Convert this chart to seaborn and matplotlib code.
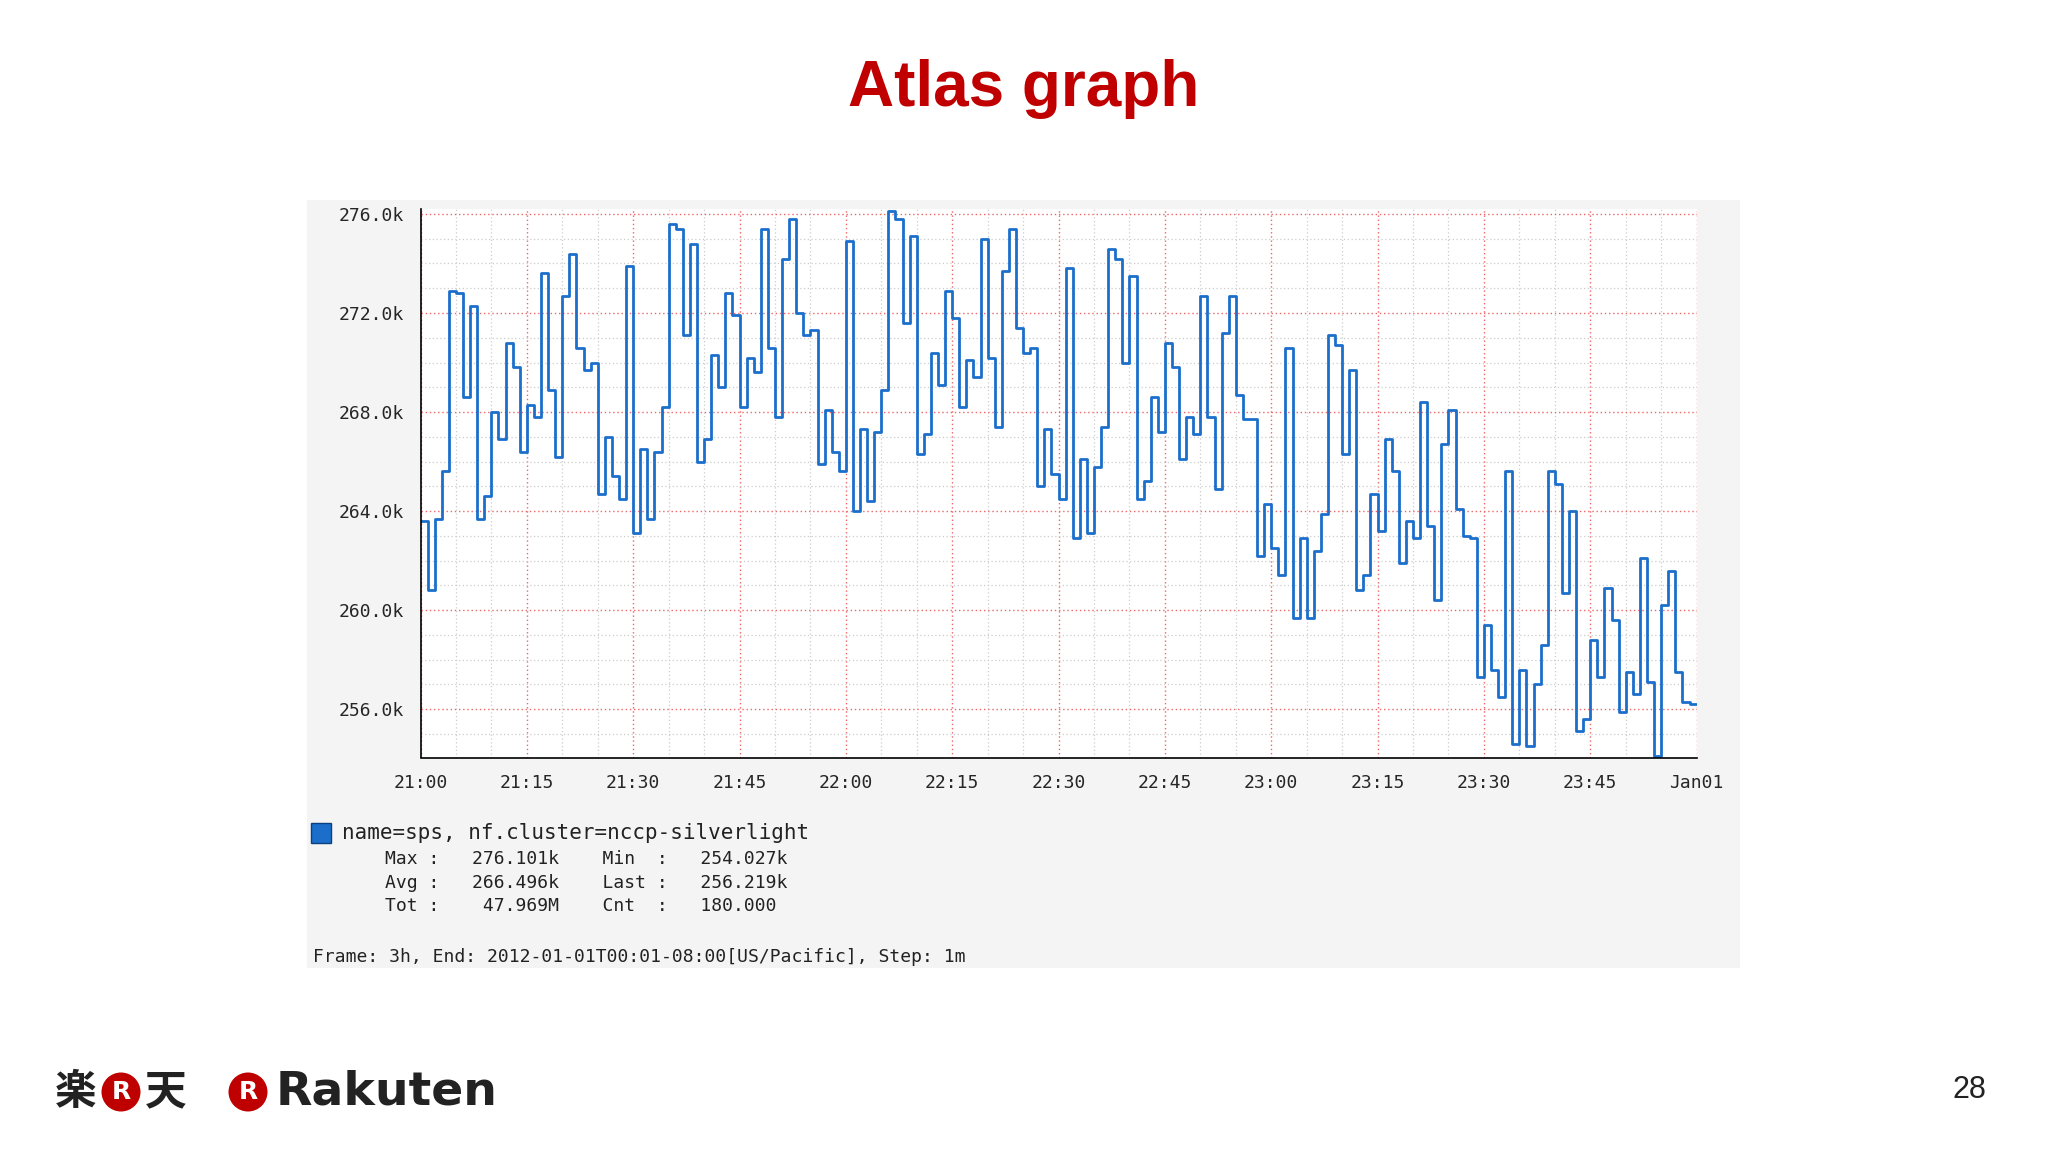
import matplotlib
matplotlib.use("Agg")
import matplotlib.pyplot as plt
import seaborn as sns
import pandas as pd
import numpy as np
from matplotlib.patches import Rectangle

values_k = [263.6,260.8,263.7,265.6,272.9,272.8,268.6,272.3,263.7,264.6,268.0,266.9,270.8,269.8,266.4,268.3,267.8,273.6,268.9,266.2,
            272.7,274.4,270.6,269.7,270.0,264.7,267.0,265.4,264.5,273.9,263.1,266.5,263.7,266.4,268.2,275.6,275.4,271.1,274.8,266.0,
            266.9,270.3,269.0,272.8,271.9,268.2,270.2,269.6,275.4,270.6,267.8,274.2,275.8,272.0,271.1,271.3,265.9,268.1,266.4,265.6,
            274.9,264.0,267.3,264.4,267.2,268.9,276.1,275.8,271.6,275.1,266.3,267.1,270.4,269.1,272.9,271.8,268.2,270.1,269.4,275.0,
            270.2,267.4,273.7,275.4,271.4,270.4,270.6,265.0,267.3,265.5,264.5,273.8,262.9,266.1,263.1,265.8,267.4,274.6,274.2,270.0,
            273.5,264.5,265.2,268.6,267.2,270.8,269.8,266.1,267.8,267.1,272.7,267.8,264.9,271.2,272.7,268.7,267.7,267.7,262.2,264.3,
            262.5,261.4,270.6,259.7,262.9,259.7,262.4,263.9,271.1,270.7,266.3,269.7,260.8,261.4,264.7,263.2,266.9,265.6,261.9,263.6,
            262.9,268.4,263.4,260.4,266.7,268.1,264.1,263.0,262.9,257.3,259.4,257.6,256.5,265.6,254.6,257.6,254.5,257.0,258.6,265.6,
            265.1,260.7,264.0,255.1,255.6,258.8,257.3,260.9,259.6,255.9,257.5,256.6,262.1,257.1,254.1,260.2,261.6,257.5,256.3,256.2]
tick_minutes = [0, 15, 30, 45, 60, 75, 90, 105, 120, 135, 150, 165, 180]
tick_labels = ["21:00","21:15","21:30","21:45","22:00","22:15","22:30","22:45","23:00","23:15","23:30","23:45","Jan01"]
y_ticks = [256, 260, 264, 268, 272, 276]
y_tick_labels = ["256.0k","260.0k","264.0k","268.0k","272.0k","276.0k"]
series_name = "name=sps, nf.cluster=nccp-silverlight"
stats_lines = ["Max :   276.101k    Min  :   254.027k",
               "Avg :   266.496k    Last :   256.219k",
               "Tot :    47.969M    Cnt  :   180.000"]
footer = "Frame: 3h, End: 2012-01-01T00:01-08:00[US/Pacific], Step: 1m"

sns.set_theme(style="white")
plt.rcParams['font.family'] = ['DejaVu Sans', 'Noto Sans CJK JP']

W, H = 2048, 1152
fig = plt.figure(figsize=(20.48, 11.52), dpi=100)
fig.patch.set_facecolor("white")
panel = Rectangle((307/W, 1-968/H), (1740-307)/W, (968-200)/H, transform=fig.transFigure,
                  facecolor="#f4f4f4", edgecolor="none", zorder=-5)
fig.patches.append(panel)

ax = fig.add_axes([420.5/W, 1-757.5/H, (1696.6-420.5)/W, (757.5-209)/H])
ax.set_zorder(2)
ax.set_facecolor("white")
n = len(values_k)
df = pd.DataFrame({"minute": list(range(n)) + [n], "v": values_k + [values_k[-1]]})
sns.lineplot(data=df, x="minute", y="v", ax=ax, drawstyle="steps-post", color="#1b6fcb", linewidth=2)
ax.set_xlim(0, 180)
ax.set_ylim(254.05, 276.2)
ax.set_xticks(tick_minutes)
ax.set_xticklabels(tick_labels, family="DejaVu Sans Mono", fontsize=13)
ax.set_yticks(y_ticks)
ax.set_yticklabels(y_tick_labels, family="DejaVu Sans Mono", fontsize=13)
ax.set_xticks(np.arange(0, 181, 5), minor=True)
ax.set_yticks(np.arange(255, 277, 1), minor=True)
ax.grid(which="minor", color="#cccccc", linestyle=(0, (1, 2)), linewidth=0.9)
ax.grid(which="major", color="#ee6666", linestyle=(0, (1, 2)), linewidth=1.0)
ax.set_axisbelow(True)
ax.set_xlabel(""); ax.set_ylabel("")
for s in ["top", "right"]:
    ax.spines[s].set_visible(False)
for s in ["left", "bottom"]:
    ax.spines[s].set_color("black"); ax.spines[s].set_linewidth(1.2)
ax.tick_params(axis="both", which="major", direction="out", length=6, width=1.2, color="black", pad=6)
ax.tick_params(axis="both", which="minor", length=0)

fig.text(0.5, 1-89/H, "Atlas graph", ha="center", va="center", fontsize=46, fontweight="bold",
         color="#c00000", family="Liberation Sans")
fig.patches.append(Rectangle((311/W, 1-843/H), 20/W, 20/H, transform=fig.transFigure,
                             facecolor="#1b6fcb", edgecolor="#0a3f80", zorder=3))
fig.text(342/W, 1-833/H, series_name, ha="left", va="center", fontsize=15, family="DejaVu Sans Mono", color="#222222")
for i, line in enumerate(stats_lines):
    fig.text(385/W, 1-(859+23.5*i)/H, line, ha="left", va="center", fontsize=13,
             family="DejaVu Sans Mono", color="#222222")
fig.text(313/W, 1-957/H, footer, ha="left", va="center", fontsize=13, family="DejaVu Sans Mono", color="#222222")

# footer logos
fig.text(76/W, 1-1092/H, "楽", ha="center", va="center", fontsize=30, family="Noto Sans CJK JP", fontweight="bold", color="#222222")
fig.text(166/W, 1-1092/H, "天", ha="center", va="center", fontsize=30, family="Noto Sans CJK JP", fontweight="bold", color="#222222")
for cx in (121, 248):
    fig.text(cx/W, 1-1092/H, "R", ha="center", va="center", fontsize=18, fontweight="bold", color="white",
             bbox=dict(boxstyle="circle,pad=0.3", facecolor="#bf0000", edgecolor="none"))
fig.text(276/W, 1-1092/H, "Rakuten", ha="left", va="center", fontsize=34, fontweight="bold", color="#222222",
         family="DejaVu Sans")
fig.text(1969/W, 1-1090/H, "28", ha="center", va="center", fontsize=22, color="#222222", family="Liberation Sans")

fig.savefig("out.png", dpi=100)
